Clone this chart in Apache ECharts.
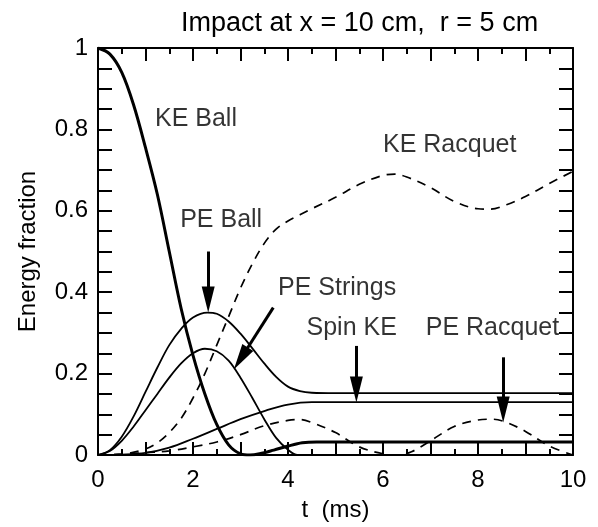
<!DOCTYPE html>
<html>
<head>
<meta charset="utf-8">
<script src="https://cdn.jsdelivr.net/npm/echarts@6/dist/echarts.min.js"></script>
<style>
	html, body { margin: 0; padding: 0; background: #fff; }
	#chart { width: 598px; height: 527px; }
</style>
</head>
<body>
<div id="chart"></div>
<script>
// energy fractions, [t (ms), fraction]
var keBall = [[0, 1], [0.25, 0.985], [0.5, 0.94], [0.75, 0.86], [1.0, 0.755], [1.25, 0.64], [1.5, 0.5], [1.75, 0.36], [2.0, 0.245], [2.25, 0.15], [2.5, 0.075], [2.75, 0.025], [3.0, 0.003], [3.2, 0], [3.4, 0.003], [3.7, 0.012], [4.0, 0.022], [4.3, 0.03], [4.6, 0.032], [5, 0.032], [10, 0.032]];
var peBall = [[0, 0], [0.25, 0.012], [0.5, 0.045], [0.75, 0.095], [1.0, 0.155], [1.25, 0.215], [1.5, 0.27], [1.75, 0.31], [2.0, 0.338], [2.3, 0.35], [2.5, 0.347], [2.75, 0.328], [3.0, 0.298], [3.25, 0.262], [3.5, 0.225], [3.75, 0.192], [4.0, 0.168], [4.25, 0.157], [4.5, 0.153], [5, 0.152], [10, 0.152]];
var peStrings = [[0, 0], [0.25, 0.01], [0.5, 0.035], [0.75, 0.07], [1.0, 0.11], [1.25, 0.15], [1.5, 0.19], [1.75, 0.225], [2.0, 0.25], [2.25, 0.261], [2.5, 0.255], [2.75, 0.232], [3.0, 0.19], [3.25, 0.14], [3.5, 0.088], [3.75, 0.042], [4.0, 0.013], [4.2, 0], [4.4, 0]];
var spinKE = [[0, 0], [0.5, 0.001], [1.0, 0.005], [1.5, 0.018], [2.0, 0.04], [2.5, 0.064], [3.0, 0.088], [3.5, 0.108], [4.0, 0.124], [4.5, 0.13], [5, 0.13], [10, 0.13]];
var keRacquet = [[0, 0], [0.5, 0.002], [1.0, 0.015], [1.25, 0.03], [1.5, 0.055], [1.75, 0.09], [2.0, 0.14], [2.25, 0.2], [2.5, 0.27], [2.75, 0.34], [3.0, 0.41], [3.25, 0.47], [3.5, 0.52], [3.75, 0.555], [4.0, 0.575], [4.25, 0.59], [4.5, 0.605], [5.0, 0.633], [5.5, 0.665], [6.0, 0.687], [6.25, 0.69], [6.5, 0.683], [7.0, 0.657], [7.5, 0.623], [8.0, 0.605], [8.25, 0.604], [8.6, 0.615], [9.0, 0.635], [9.5, 0.667], [10, 0.697]];
var peRacquet = [[0, 0], [0.5, 0.002], [1.0, 0.006], [1.5, 0.01], [2.0, 0.02], [2.5, 0.032], [3.0, 0.05], [3.5, 0.072], [4.0, 0.085], [4.25, 0.087], [4.5, 0.08], [5.0, 0.055], [5.5, 0.02], [6.0, 0.003], [6.3, 0], [6.6, 0.008], [7.0, 0.035], [7.5, 0.07], [8.0, 0.086], [8.3, 0.088], [8.6, 0.08], [9.0, 0.058], [9.5, 0.022], [10, 0]];

// annotation texts: [t, fraction, text]
var notes = [[1.2, 0.826, 'KE Ball'], [1.73, 0.576, 'PE Ball'], [6.0, 0.762, 'KE Racquet'], [3.79, 0.41, 'PE Strings'], [4.39, 0.311, 'Spin KE'], [6.9, 0.311, 'PE Racquet']];
// arrows: [from t, from fraction, to t, to fraction]
var arrows = [[2.32, 0.5, 2.32, 0.382], [3.69, 0.362, 3.007, 0.237], [5.44, 0.268, 5.44, 0.161], [8.53, 0.24, 8.53, 0.112]];

var font = 'Liberation Sans';
var myChart = echarts.init(document.getElementById('chart'));

function curve(name, data, width, dashed) {
	return {
		name: name,
		type: 'line',
		data: data,
		smooth: 0.35,
		showSymbol: false,
		silent: true,
		lineStyle: {
			color: '#000',
			width: width,
			type: dashed ? [9, 7] : 'solid'
		}
	};
}

var xCommon = {
	type: 'value',
	min: 0,
	max: 10,
	interval: 1,
	axisLine: { show: true, onZero: false, lineStyle: { color: '#000', width: 2 } },
	axisTick: { show: true, inside: true, length: 13, lineStyle: { color: '#000', width: 2 } },
	minorTick: { show: true, splitNumber: 2, length: 6, lineStyle: { color: '#000', width: 2 } },
	splitLine: { show: false }
};
var yCommon = {
	type: 'value',
	min: 0,
	max: 1,
	interval: 0.2,
	axisLine: { show: true, onZero: false, lineStyle: { color: '#000', width: 2 } },
	axisTick: { show: true, inside: true, length: 14, lineStyle: { color: '#000', width: 2 } },
	minorTick: { show: true, splitNumber: 4, length: 14, lineStyle: { color: '#000', width: 2 } },
	splitLine: { show: false }
};

var option = {
	animation: false,
	backgroundColor: '#fff',
	textStyle: { fontFamily: font },
	title: {
		text: 'Impact at x = 10 cm,  r = 5 cm',
		left: 176,
		top: 5,
		textStyle: { color: '#000', fontSize: 27, fontWeight: 'normal', fontFamily: font }
	},
	grid: { left: 98, right: 25, top: 48, bottom: 71 },
	xAxis: [
		Object.assign({}, xCommon, {
			position: 'bottom',
			name: 't  (ms)',
			nameLocation: 'middle',
			nameGap: 43,
			nameTextStyle: { color: '#000', fontSize: 24, fontFamily: font },
			axisLabel: {
				color: '#000', fontSize: 24, margin: 13, fontFamily: font,
				formatter: function(v) { return v % 2 === 0 ? String(v) : ''; }
			}
		}),
		Object.assign({}, xCommon, { position: 'top', axisLabel: { show: false } })
	],
	yAxis: [
		Object.assign({}, yCommon, {
			position: 'left',
			name: 'Energy fraction',
			nameLocation: 'middle',
			nameGap: 58,
			nameTextStyle: { color: '#000', fontSize: 24, fontFamily: font },
			axisLabel: { color: '#000', fontSize: 24, margin: 10, fontFamily: font }
		}),
		Object.assign({}, yCommon, { position: 'right', axisLabel: { show: false } })
	],
	series: [
		curve('KE Racquet', keRacquet, 1.7, true),
		curve('PE Racquet', peRacquet, 1.7, true),
		curve('Spin KE', spinKE, 1.8, false),
		curve('PE Strings', peStrings, 1.8, false),
		curve('PE Ball', peBall, 1.8, false),
		curve('KE Ball', keBall, 3, false),
		{
			name: 'notes',
			type: 'scatter',
			data: notes,
			symbolSize: 0,
			silent: true,
			label: {
				show: true,
				position: 'right',
				distance: 0,
				color: '#000',
				fontSize: 25,
				fontFamily: font,
				formatter: function(p) { return p.data[2]; }
			},
			markLine: {
				silent: true,
				symbol: ['none', 'triangle'],
				symbolSize: [13, 26],
				label: { show: false },
				lineStyle: { color: '#000', width: 3, type: 'solid' },
				data: arrows.map(function(a) {
					return [{ coord: [a[0], a[1]] }, { coord: [a[2], a[3]] }];
				})
			}
		}
	]
};
myChart.setOption(option);
</script>
</body>
</html>
